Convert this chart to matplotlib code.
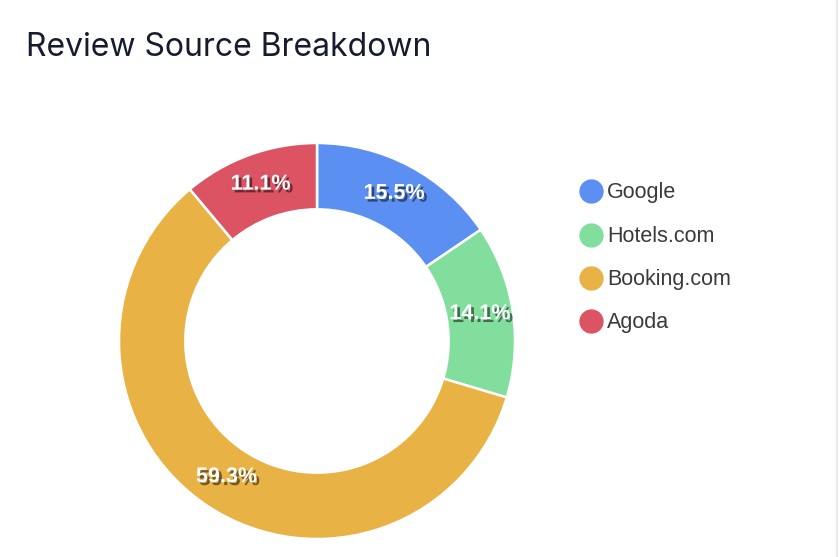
import matplotlib
matplotlib.use("Agg")
import matplotlib.pyplot as plt
import matplotlib.patheffects as pe
from matplotlib.lines import Line2D
import numpy as np

# data
sources = ["Google", "Hotels.com", "Booking.com", "Agoda"]
shares = [15.5, 14.1, 59.3, 11.1]
colors = ["#5B8FF2", "#82DE9D", "#E8B245", "#DC5464"]

W, H = 839, 557
fig = plt.figure(figsize=(W / 100, H / 100), dpi=100)
fig.patch.set_facecolor("white")

# donut geometry in pixels
cx, cy, r = 317, 341, 198
ax = fig.add_axes([(cx - r) / W, (H - cy - r) / H, 2 * r / W, 2 * r / H])
ring = 0.335

wedges, _ = ax.pie(shares, colors=colors, startangle=90, counterclock=False,
                   radius=1.0,
                   wedgeprops=dict(width=ring, edgecolor="white", linewidth=1.8))
ax.set_xlim(-1, 1)
ax.set_ylim(-1, 1)
ax.set_aspect("equal")
ax.axis("off")

# percentage labels at the middle of each ring segment
shadow = [pe.SimplePatchShadow(offset=(2, -2), shadow_rgbFace="black", alpha=0.5),
          pe.Normal()]
rmid = 1 - ring / 2
for w, v in zip(wedges, shares):
    ang = np.deg2rad((w.theta1 + w.theta2) / 2)
    ax.text(rmid * np.cos(ang), rmid * np.sin(ang) + 0.01, f"{v:.1f}%",
            ha="center", va="center", color="white", fontsize=15.5,
            fontweight="bold", family="Liberation Sans", path_effects=shadow)

# title
fig.text(26 / W, 1 - 48 / H, "Review Source Breakdown", fontsize=23,
         color="#161b2e", family="Inter", ha="left", va="center")

# legend
ly = [191, 235, 278, 321]
for name, col, y in zip(sources, colors, ly):
    fig.add_artist(Line2D([591 / W], [1 - y / H], marker="o", markersize=16.5,
                          markerfacecolor=col, markeredgecolor=col,
                          transform=fig.transFigure))
    fig.text(607 / W, 1 - (y + 1.5) / H, name, fontsize=15.5, color="#3a3a3a",
             family="Liberation Sans", ha="left", va="center")

# thin border at right edge
fig.add_artist(Line2D([837 / W, 837 / W], [0, 1], color="#e6e6e6", lw=1.2,
                      transform=fig.transFigure))

fig.savefig("out.png", dpi=100)
